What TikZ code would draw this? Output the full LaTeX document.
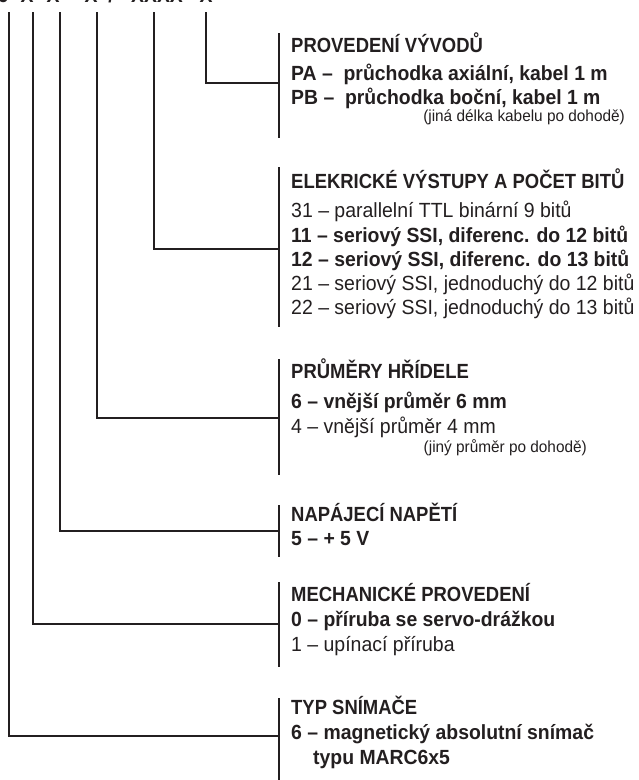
\documentclass[tikz,border=0pt]{standalone}
\usepackage{fontspec}
\setmainfont{Liberation Sans}
\newfontfamily\regf{Liberation Sans}[FakeStretch=0.95]
\newfontfamily\boldf{Liberation Sans}[FakeStretch=0.946]
\newfontfamily\headf{Liberation Sans}[FakeStretch=0.90]
\newfontfamily\smallf{Liberation Sans}[FakeStretch=0.96]
\definecolor{ink}{HTML}{231F20}
\begin{document}
\begin{tikzpicture}[x=1pt,y=-1pt,
  conn/.style={line width=1.8pt, draw=ink, line join=miter},
  hd/.style={anchor=base west, inner sep=0, text=ink, font=\fontsize{20.5}{24}\headf\bfseries},
  itm/.style={anchor=base west, inner sep=0, text=ink, font=\fontsize{20.5}{24}\regf},
  itb/.style={anchor=base west, inner sep=0, text=ink, font=\fontsize{20.5}{24}\boldf\bfseries},
  sm/.style={anchor=base east, inner sep=0, text=ink, font=\fontsize{16}{19}\smallf},
  code/.style={anchor=base, inner sep=0, text=ink, font=\fontsize{20.5}{24}\boldf\bfseries}]
\useasboundingbox (0,0) rectangle (638,780);
\clip (0,0) rectangle (638,780);

% cut-off code row at the top
\node[code] (c1) at (3,2.5) {6};
\node[code] (c2) at (27,2.5) {X};
\node[code] (c3) at (53,2.5) {X};
\node[code] (c4) at (91,2.5) {X};
\node[code] (c5) at (111,2.5) {/};
\node[code] (c6) at (157,2.5) {XXXX};
\node[code] (c7) at (206,2.5) {X};

% line tops
\coordinate (t1) at (206,12);
\coordinate (t2) at (154,12);
\coordinate (t3) at (97,12);
\coordinate (t4) at (60,12);
\coordinate (t5) at (33,12);
\coordinate (t6) at (9,12);

% bracket bars
\coordinate (b1a) at (279,33);  \coordinate (b1b) at (279,138);
\coordinate (b2a) at (279,167); \coordinate (b2b) at (279,327);
\coordinate (b3a) at (279,359); \coordinate (b3b) at (279,475);
\coordinate (b4a) at (279,505); \coordinate (b4b) at (279,557);
\coordinate (b5a) at (279,582); \coordinate (b5b) at (279,667);
\coordinate (b6a) at (279,698); \coordinate (b6b) at (279,782);
\draw[conn] (b1a) -- (b1b);
\draw[conn] (b2a) -- (b2b);
\draw[conn] (b3a) -- (b3b);
\draw[conn] (b4a) -- (b4b);
\draw[conn] (b5a) -- (b5b);
\draw[conn] (b6a) -- (b6b);

% junctions
\coordinate (j1) at (279,83);
\coordinate (j2) at (279,249);
\coordinate (j3) at (279,418);
\coordinate (j4) at (279,531);
\coordinate (j5) at (279,624);
\coordinate (j6) at (279,736);
\draw[conn] (t1) |- (j1);
\draw[conn] (t2) |- (j2);
\draw[conn] (t3) |- (j3);
\draw[conn] (t4) |- (j4);
\draw[conn] (t5) |- (j5);
\draw[conn] (t6) |- (j6);

% block 1
\node[hd]  (h1)  at (291,52)  {PROVEDENÍ VÝVODŮ};
\node[itb] (h1a) at (291,80)  {PA –\ \ průchodka axiální, kabel 1 m};
\node[itb] (h1b) at (291,104) {PB –\ \ průchodka boční, kabel 1 m};
\node[sm]  (h1c) at (625,121) {(jiná délka kabelu po dohodě)};

% block 2
\node[hd]  (h2)  at (291,188) {ELEKRICKÉ VÝSTUPY A POČET BITŮ};
\node[itm] (h2a) at (291,217) {31 – parallelní TTL binární 9 bitů};
\node[itb] (h2b) at (291,242) {11 – seriový SSI, diferenc. do 12 bitů};
\node[itb] (h2c) at (291,266) {12 – seriový SSI, diferenc. do 13 bitů};
\node[itm] (h2d) at (291,290) {21 – seriový SSI, jednoduchý do 12 bitů};
\node[itm] (h2e) at (291,314) {22 – seriový SSI, jednoduchý do 13 bitů};

% block 3
\node[hd]  (h3)  at (291,378) {PRŮMĚRY HŘÍDELE};
\node[itb] (h3a) at (291,408) {6 – vnější průměr 6 mm};
\node[itm] (h3b) at (291,433) {4 – vnější průměr 4 mm};
\node[sm]  (h3c) at (587,452) {(jiný průměr po dohodě)};

% block 4
\node[hd]  (h4)  at (291,521) {NAPÁJECÍ NAPĚTÍ};
\node[itb] (h4a) at (291,545) {5 – + 5 V};

% block 5
\node[hd]  (h5)  at (291,601) {MECHANICKÉ PROVEDENÍ};
\node[itb] (h5a) at (291,626) {0 – příruba se servo-drážkou};
\node[itm] (h5b) at (291,651) {1 – upínací příruba};

% block 6
\node[hd]  (h6)  at (291,714) {TYP SNÍMAČE};
\node[itb] (h6a) at (291,739) {6 – magnetický absolutní snímač};
\node[itb] (h6b) at (313,764) {typu MARC6x5};
\end{tikzpicture}
\end{document}
